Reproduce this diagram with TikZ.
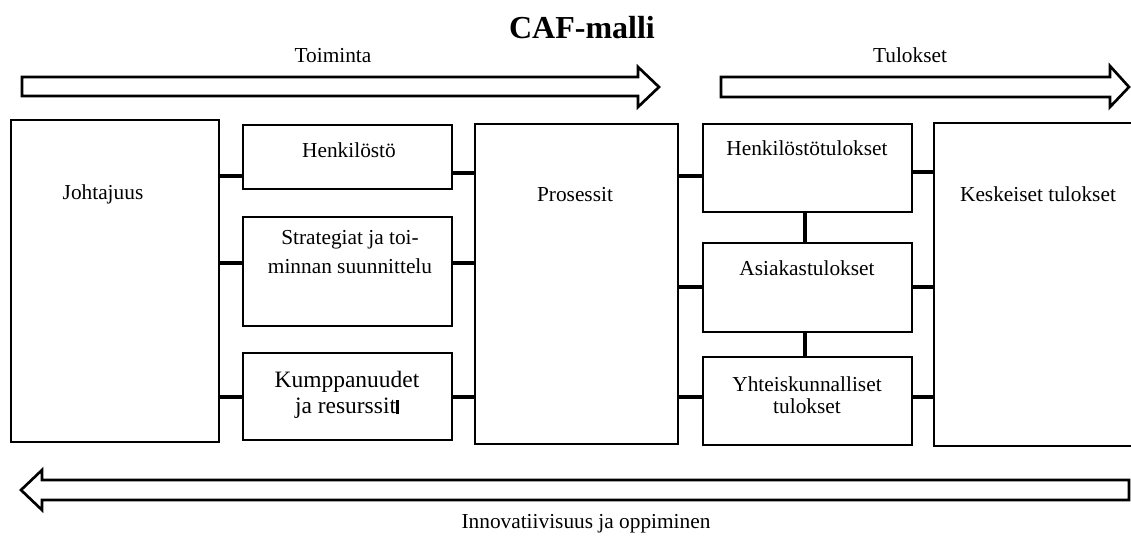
\documentclass[tikz,border=0pt]{standalone}
\usepackage{fontspec}
\setmainfont{Liberation Serif}
\usetikzlibrary{fit}
\begin{document}
\begin{tikzpicture}[x=0.75pt,y=-0.75pt,
  box/.style={draw=black, line width=0.8pt, inner sep=0pt},
  link/.style={draw=black, line width=3pt},
  flow/.style={draw=black, line width=2pt, fill=white, line join=miter},
  txt/.style={inner sep=0pt, font=\fontsize{16}{18}\selectfont, align=center},
]
\useasboundingbox (0,0) rectangle (1131,537);
\clip (0,0) rectangle (1131,537);

% title and flow labels
\node[anchor=base, inner sep=0pt, font=\bfseries\fontsize{24}{28}\selectfont] (title) at (582,38) {CAF-malli};
\node[txt, anchor=base] (act) at (333,62) {Toiminta};
\node[txt, anchor=base] (res) at (910,62) {Tulokset};
\node[txt, anchor=base] (inn) at (586,528) {Innovatiivisuus ja oppiminen};

% block arrows
\draw[flow] (22,77) -- (638,77) -- (638,67) -- (659,87) -- (638,107) -- (638,96) -- (22,96) -- cycle;
\draw[flow] (721,77) -- (1110,77) -- (1110,66) -- (1129,87) -- (1110,107) -- (1110,97) -- (721,97) -- cycle;
\draw[flow] (1129,480) -- (42,480) -- (42,470) -- (21,490) -- (42,510) -- (42,500) -- (1129,500) -- cycle;

% enablers
\node[box, fit={(11,120) (219,442)}] (lead) {};
\node[box, fit={(243,125) (452,189)}] (henk) {};
\node[box, fit={(243,217) (452,326)}] (strat) {};
\node[box, fit={(243,353) (452,440)}] (kump) {};
\node[box, fit={(475,124) (678,444)}] (proc) {};
% results
\node[box, fit={(703,124) (912,212)}] (ht) {};
\node[box, fit={(703,243) (912,332)}] (at) {};
\node[box, fit={(703,357) (912,445)}] (yt) {};
\node[box, fit={(934,123) (1140,446)}] (key) {};

% box texts
\node[txt, anchor=base] (leadtxt) at (103,199) {Johtajuus};
\node[txt, anchor=base] (henktxt) at (349,157) {Henkilöstö};
\node[txt, anchor=north, font=\fontsize{16}{21.75}\selectfont] (strattxt) at (350,230) {Strategiat ja toi-\\minnan suunnittelu};
\node[txt, anchor=north, font=\fontsize{17.6}{19.5}\selectfont] (kumptxt) at (347,371) {Kumppanuudet\\ja resurssit\rule{2.2pt}{10pt}};
\node[txt, anchor=base] (proctxt) at (575,201) {Prosessit};
\node[txt, anchor=base] (httxt) at (807,155) {Henkilöstötulokset};
\node[txt, anchor=base] (attxt) at (807,275) {Asiakastulokset};
\node[txt, anchor=north, font=\fontsize{16}{16.5}\selectfont] (yttxt) at (807,376) {Yhteiskunnalliset\\tulokset};
\node[txt, anchor=base] (keytxt) at (1038,201) {Keskeiset tulokset};

% connectors
\draw[link] (lead.east |- 0,176) -- (henk.west |- 0,176);
\draw[link] (henk.east |- 0,173) -- (proc.west |- 0,173);
\draw[link] (lead.east |- 0,263) -- (strat.west |- 0,263);
\draw[link] (strat.east |- 0,263) -- (proc.west |- 0,263);
\draw[link] (lead.east |- 0,397) -- (kump.west |- 0,397);
\draw[link] (kump.east |- 0,397) -- (proc.west |- 0,397);
\draw[link] (proc.east |- 0,176) -- (ht.west |- 0,176);
\draw[link] (ht.east |- 0,172) -- (key.west |- 0,172);
\draw[link] (proc.east |- 0,287) -- (at.west |- 0,287);
\draw[link] (at.east |- 0,287) -- (key.west |- 0,287);
\draw[link] (proc.east |- 0,397) -- (yt.west |- 0,397);
\draw[link] (yt.east |- 0,397) -- (key.west |- 0,397);
\draw[link] (ht.south -| 805,0) -- (at.north -| 805,0);
\draw[link] (at.south -| 805,0) -- (yt.north -| 805,0);
\end{tikzpicture}
\end{document}
